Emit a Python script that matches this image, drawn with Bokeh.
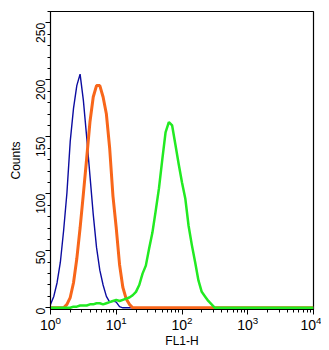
import math
from bokeh.plotting import figure
from bokeh.models import Range1d, FixedTicker
from bokeh.embed import file_html
from bokeh.resources import INLINE

# log10(FL1-H) channel positions
log_x = [round(i * 0.05, 2) for i in range(81)]

blue_counts = [3, 10, 22, 40, 68, 101, 146, 175, 195, 205, 182, 150, 116, 82, 53, 33, 20, 10, 5, 6, 5, 1] + [0] * 59
orange_counts = [0, 0, 0, 0, 0, 3, 9, 22, 43, 70, 100, 131, 163, 185, 195, 195, 185, 170, 140, 98, 70, 38, 18, 8, 3] + [0] * 56
green_counts = ([0, 0, 0, 0, 0, 0, 0, 1, 1, 2, 2, 2, 3, 3, 4, 4, 3, 4, 5, 6, 7, 6, 7, 8, 9, 11, 14, 20, 30, 37,
                 52, 66, 85, 105, 130, 154, 163, 160, 143, 126, 110, 96, 72, 55, 40, 24, 14, 10, 6, 3, 0]
                + [0] * 30)

x_vals = [10 ** v for v in log_x]

y_ticks = [0, 50, 100, 150, 200, 250]
x_ticks = [1, 10, 100, 1000, 10000]

p = figure(frame_width=263, frame_height=298, x_axis_type="log", output_backend="svg",
           toolbar_location=None, x_range=Range1d(1, 10000), y_range=Range1d(-1.5, 260),
           min_border_left=50, min_border_right=8, min_border_top=11, min_border_bottom=10)

p.line(x_vals, blue_counts, line_color="#0c0ca0", line_width=1.4)
p.line(x_vals, orange_counts, line_color="#f8661a", line_width=3)
p.line(x_vals, green_counts, line_color="#22ea22", line_width=2.5)

p.grid.visible = False
p.background_fill_color = "white"
p.border_fill_color = "white"
p.outline_line_color = "black"
p.outline_line_width = 1.2

p.yaxis.ticker = FixedTicker(ticks=y_ticks, minor_ticks=list(range(0, 261, 10)))
p.xaxis.ticker.desired_num_ticks = 5
for ax in (p.xaxis[0], p.yaxis[0]):
    ax.axis_line_color = "black"
    ax.major_tick_line_color = "black"
    ax.minor_tick_line_color = "black"
    ax.major_tick_in = 0
    ax.major_tick_out = 5
    ax.minor_tick_in = 0
    ax.minor_tick_out = 3
    ax.major_label_text_font = "Liberation Sans"
    ax.axis_label_text_font = "Liberation Sans"
    ax.axis_label_text_font_style = "normal"
    ax.major_label_text_color = "black"
    ax.axis_label_text_color = "black"

p.yaxis.axis_label = "Counts"
p.yaxis.axis_label_text_font_size = "12px"
p.yaxis.major_label_text_font_size = "12px"
p.yaxis.major_label_orientation = math.pi / 2
p.yaxis.major_label_standoff = 5
p.yaxis.axis_label_standoff = 6

p.xaxis.axis_label = "FL1-H"
p.xaxis.axis_label_text_font_size = "12px"
p.xaxis.major_label_text_font_size = "14px"
p.xaxis.major_label_standoff = 1
p.xaxis.axis_label_standoff = 1

open("out.html", "w").write(file_html(p, INLINE))
